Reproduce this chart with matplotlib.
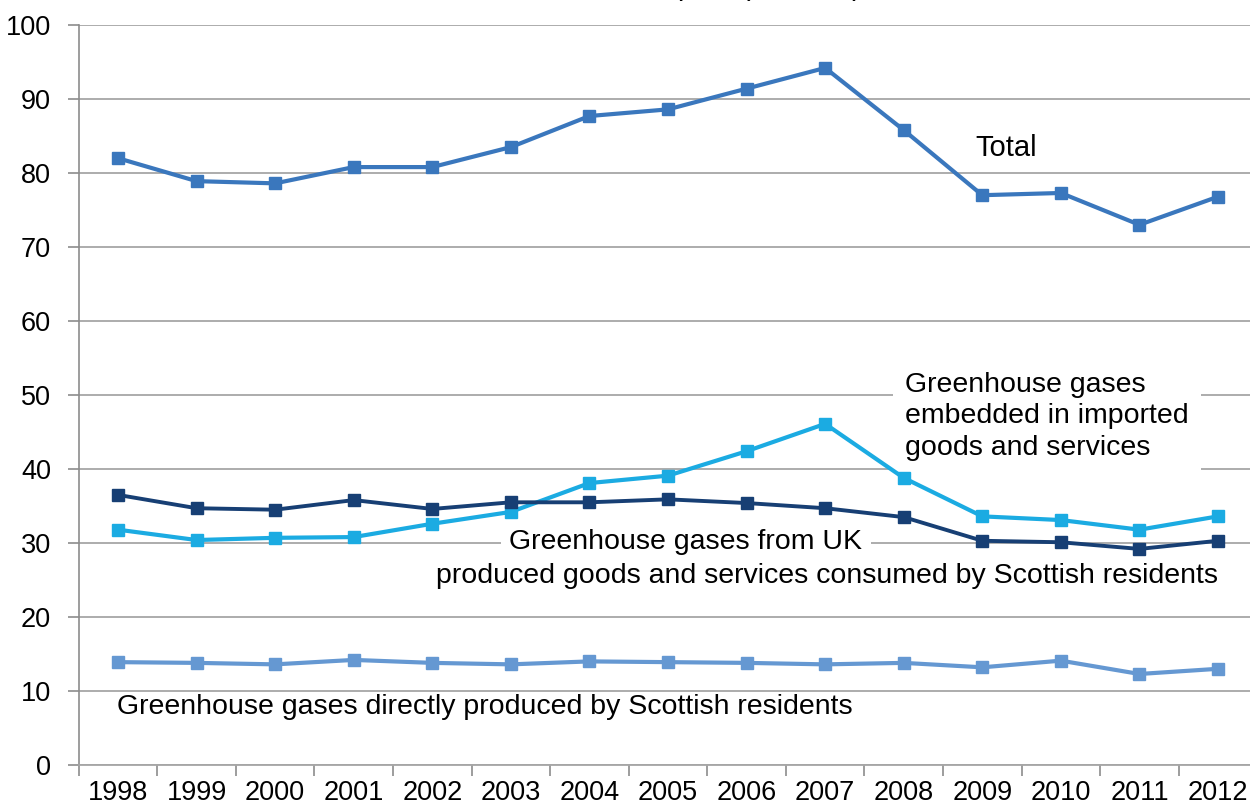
import matplotlib
matplotlib.use("Agg")
import matplotlib.pyplot as plt

plt.rcParams['font.family'] = ['Liberation Sans', 'DejaVu Sans']

# ---------------------------------
# Data (MtCO2e)
# ---------------------------------
years = ['1998', '1999', '2000', '2001', '2002', '2003', '2004', '2005',
         '2006', '2007', '2008', '2009', '2010', '2011', '2012']

total = [82.0, 78.9, 78.6, 80.8, 80.8, 83.5, 87.7, 88.6,
         91.4, 94.2, 85.8, 77.0, 77.3, 73.0, 76.8]
imported = [31.8, 30.4, 30.7, 30.8, 32.6, 34.2, 38.1, 39.1,
            42.4, 46.1, 38.8, 33.6, 33.1, 31.8, 33.6]
uk_produced = [36.5, 34.7, 34.5, 35.8, 34.6, 35.5, 35.5, 35.9,
               35.4, 34.7, 33.5, 30.3, 30.1, 29.2, 30.3]
direct = [13.9, 13.8, 13.6, 14.2, 13.8, 13.6, 14.0, 13.9,
          13.8, 13.6, 13.8, 13.2, 14.1, 12.3, 13.0]

# ---------------------------------
# Figure and axes
# ---------------------------------
fig = plt.figure(figsize=(12.5, 8.1), dpi=100)
ax = fig.add_axes([78.7 / 1250, 45 / 810, 1178.6 / 1250, 740 / 810])

x = list(range(len(years)))
ax.plot(x, total, color='#3A77BD', lw=3, marker='s', ms=8.5, zorder=3)
ax.plot(x, imported, color='#1BABE2', lw=3, marker='s', ms=8.5, zorder=3)
ax.plot(x, uk_produced, color='#173F74', lw=2.8, marker='s', ms=8.5, zorder=3)
ax.plot(x, direct, color='#6598D2', lw=3, marker='s', ms=8.5, zorder=3)

ax.set_xlim(-0.5, len(years) - 0.5)
ax.set_ylim(0, 100)
ax.set_yticks(range(0, 101, 10))
ax.tick_params(axis='y', labelsize=19.5, length=8, width=1.2, color='#8C8C8C',
               pad=12, direction='out')

# category axis: ticks sit between years, labels in the middle
ax.set_xticks([i - 0.5 for i in range(len(years) + 1)])
ax.set_xticklabels([])
ax.set_xticks(x, minor=True)
ax.set_xticklabels(years, minor=True, fontsize=19.5)
ax.tick_params(axis='x', which='major', length=8, width=1.2, color='#8C8C8C',
               direction='out')
ax.tick_params(axis='x', which='minor', length=0, pad=11)

ax.grid(axis='y', color='#A6A6A6', lw=1.3, zorder=1)
ax.set_axisbelow(True)
for side in ['top', 'right']:
    ax.spines[side].set_visible(False)
ax.spines['left'].set_color('#8C8C8C')
ax.spines['left'].set_linewidth(1.2)
ax.spines['bottom'].set_color('#A6A6A6')
ax.spines['bottom'].set_linewidth(1.3)

# ---------------------------------
# Series labels
# ---------------------------------
ax.text(10.91, 83.4, 'Total', fontsize=21, va='center', ha='left')
ax.text(10.02, 47.1, 'Greenhouse gases\nembedded in imported\ngoods and services',
        fontsize=20.5, va='center', ha='left', linespacing=1.28, zorder=2.5,
        bbox=dict(facecolor='white', edgecolor='none', pad=9))
ax.text(4.98, 30.1, 'Greenhouse gases from UK', fontsize=20.5, va='center',
        ha='left', zorder=2.5,
        bbox=dict(facecolor='white', edgecolor='none', pad=6))
ax.text(4.05, 25.5, 'produced goods and services consumed by Scottish residents',
        fontsize=20.5, va='center', ha='left', zorder=2.5)
ax.text(-0.01, 7.8, 'Greenhouse gases directly produced by Scottish residents',
        fontsize=20.5, va='center', ha='left')

# title is cut off at the top edge in the original
fig.text(862 / 1250, 1 + 5 / 810, 'Scottish carbon footprint (MtCO\u2082e)',
         fontsize=20.5, ha='right', va='baseline')

plt.savefig('out.png', dpi=100)
